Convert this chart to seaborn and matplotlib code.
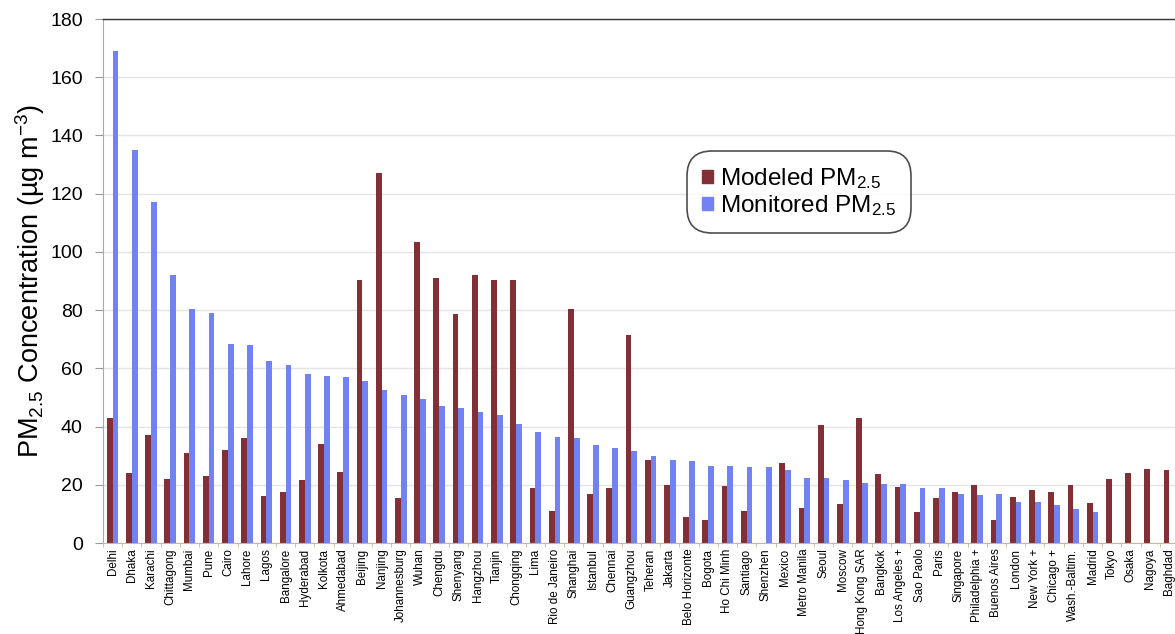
import numpy as np
import pandas as pd
import matplotlib
matplotlib.use('Agg')
import matplotlib.pyplot as plt
import seaborn as sns

plt.rcParams['mathtext.fontset'] = 'custom'
plt.rcParams['mathtext.rm'] = 'Liberation Sans'
plt.rcParams['mathtext.it'] = 'Liberation Sans:italic'

# 城市及两组PM2.5数值
cities = ['Delhi', 'Dhaka', 'Karachi', 'Chittagong', 'Mumbai', 'Pune', 'Cairo', 'Lahore',
          'Lagos', 'Bangalore', 'Hyderabad', 'Kolkota', 'Ahmedabad', 'Beijing', 'Nanjing',
          'Johannesburg', 'Wuhan', 'Chengdu', 'Shenyang', 'Hangzhou', 'Tianjin', 'Chongqing',
          'Lima', 'Rio de Janeiro', 'Shanghai', 'Istanbul', 'Chennai', 'Guangzhou', 'Teheran',
          'Jakarta', 'Belo Horizonte', 'Bogota', 'Ho Chi Minh', 'Santiago', 'Shenzhen', 'Mexico',
          'Metro Manila', 'Seoul', 'Moscow', 'Hong Kong SAR', 'Bangkok', 'Los Angeles +',
          'Sao Paolo', 'Paris', 'Singapore', 'Philadelphia +', 'Buenos Aires', 'London',
          'New York +', 'Chicago +', 'Wash.-Baltim.', 'Madrid', 'Tokyo', 'Osaka', 'Nagoya',
          'Baghdad']

modeled = [43, 24, 37, 22, 31, 23, 32, 36,
           16, 17.5, 21.5, 34, 24.5, 90.5, 127,
           15.5, 103.5, 91, 78.5, 92, 90.5, 90.5,
           19, 11, 80.5, 17, 19, 71.5, 28.5,
           20, 9, 8, 19.5, 11, np.nan, 27.5,
           12, 40.5, 13.5, 43, 23.7, 19.3,
           10.5, 15.6, 17.4, 19.9, 7.9, 15.9,
           18.2, 17.4, 19.9, 13.6, 22, 24.2, 25.4,
           25]

monitored = [169, 135, 117, 92, 80.5, 79, 68.5, 68,
             62.5, 61, 58, 57.5, 57, 55.5, 52.5,
             51, 49.5, 47, 46.5, 45, 44, 41,
             38, 36.5, 36, 33.5, 32.5, 31.5, 30,
             28.5, 28, 26.5, 26.5, 26, 26, 25,
             22.5, 22.5, 21.5, 20.7, 20.4, 20.1,
             19, 19, 17, 16.5, 16.7, 14.2,
             14, 13, 11.7, 10.5, np.nan, np.nan, np.nan,
             np.nan]

series_names = ['Modeled', 'Monitored']
colors = ['#823036', '#7182f2']

df = pd.DataFrame({
    'city': cities * 2,
    'value': modeled + monitored,
    'series': [series_names[0]] * len(cities) + [series_names[1]] * len(cities),
})

W, H = 1175, 634
fig = plt.figure(figsize=(W / 100, H / 100), dpi=100)
ax = fig.add_axes([103 / W, 1 - 543 / H, 1076 / W, 524 / H])

sns.barplot(data=df, x='city', y='value', hue='series', hue_order=series_names,
            order=cities, palette=colors, width=0.6, errorbar=None, saturation=1,
            ax=ax, legend=False)

ax.set_ylim(0, 180)
ax.set_xlim(-0.5, len(cities) - 0.5)
ax.set_yticks(range(0, 181, 20))
ax.tick_params(axis='y', labelsize=14, length=5.5, color='#999999', pad=9)
for lab in ax.get_yticklabels():
    lab.set_family('Liberation Sans')

ax.set_xticks(range(len(cities)))
ax.set_xticklabels(cities, rotation=90, fontsize=8.4, family=['Liberation Sans Narrow', 'Liberation Sans'])
ax.tick_params(axis='x', length=0, pad=4)
ax.set_xticks(np.arange(-0.5, len(cities), 1), minor=True)
ax.tick_params(axis='x', which='minor', length=3, color='#c8b89a')

ax.set_xlabel('')
ax.set_ylabel('PM$_{2.5}$ Concentration (µg m$^{-3}$)', fontsize=19.5,
              family='Liberation Sans')
ax.yaxis.set_label_coords(-0.052, 0.5)

# 网格线
ax.set_axisbelow(True)
ax.yaxis.grid(True, color='#e4e4e4', linewidth=1)

ax.spines['top'].set_color('#333333')
ax.spines['top'].set_linewidth(1)
ax.spines['left'].set_color('#aaaaaa')
ax.spines['bottom'].set_color('#c8b89a')
ax.spines['right'].set_visible(False)

# 图例
handles = [plt.Rectangle((0, 0), 1, 1, color=c) for c in colors]
leg = ax.legend(handles, ['Modeled PM$_{2.5}$', 'Monitored PM$_{2.5}$'],
                loc='center', bbox_to_anchor=(0.647, 0.67),
                prop={'family': 'Liberation Sans', 'size': 17.5},
                handlelength=0.45, handleheight=0.45, handletextpad=0.3,
                labelspacing=0.1, borderpad=0.3, fancybox=True, frameon=True)
leg.get_frame().set_edgecolor('#222222')
leg.get_frame().set_linewidth(1.2)
leg.get_frame().set_boxstyle('round,pad=0.3,rounding_size=1.0')

fig.savefig('out.png', dpi=100)
